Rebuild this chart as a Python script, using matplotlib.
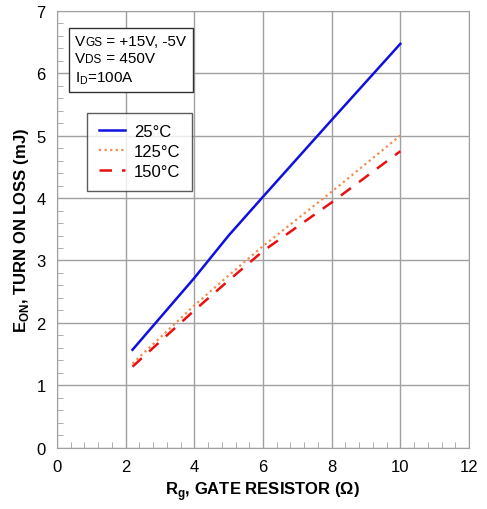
import numpy as np
import matplotlib.pyplot as plt
from matplotlib.ticker import MultipleLocator
from matplotlib.offsetbox import TextArea, HPacker, VPacker, AnchoredOffsetbox

plt.rcParams['font.family'] = ['Liberation Sans', 'DejaVu Sans']

# turn-on loss vs gate resistor
rg = [2.2, 4, 5, 6, 8, 10]
eon_25 = [1.57, 2.72, 3.40, 4.02, 5.25, 6.47]
eon_125 = [1.35, 2.28, 2.76, 3.23, 4.10, 5.00]
eon_150 = [1.30, 2.20, 2.68, 3.15, 3.93, 4.75]
labels = ['25°C', '125°C', '150°C']

fig = plt.figure(figsize=(4.87, 5.1), dpi=100)
ax = fig.add_axes([0.117, 0.12, 0.846, 0.857])

ax.plot(rg, eon_25, color='#1010e0', lw=1.8, label=labels[0])
ax.plot(rg, eon_125, color='#f08c50', lw=1.6, ls=(0, (1, 1.5)), label=labels[1])
ax.plot(rg, eon_150, color='#e81010', lw=1.8, ls=(0, (5, 4)), label=labels[2])

ax.set_xlim(0, 12)
ax.set_ylim(0, 7)
ax.xaxis.set_major_locator(MultipleLocator(2))
ax.xaxis.set_minor_locator(MultipleLocator(0.4))
ax.yaxis.set_major_locator(MultipleLocator(1))
ax.yaxis.set_minor_locator(MultipleLocator(0.2))
ax.grid(True, which='major', color='#a0a0a0', lw=1.0)
ax.tick_params(which='both', direction='in', colors='#a0a0a0', labelcolor='black',
               labelsize=12)
ax.tick_params(which='major', length=0, pad=8)
ax.tick_params(which='minor', length=4)
for s in ax.spines.values():
    s.set_color('#a0a0a0')

ax.set_xlabel(r'R$_\mathregular{g}$, GATE RESISTOR (Ω)', fontsize=12, fontweight='bold')
ax.set_ylabel(r'E$_\mathregular{ON}$, TURN ON LOSS (mJ)', fontsize=12, fontweight='bold')

# conditions box
small = dict(size=8.5)
big = dict(size=11)
line1 = HPacker(children=[TextArea('V', textprops=big), TextArea('GS', textprops=small),
                          TextArea(' = +15V, -5V', textprops=big)], align='baseline', pad=0, sep=0)
line2 = HPacker(children=[TextArea('V', textprops=big), TextArea('DS', textprops=small),
                          TextArea(' = 450V', textprops=big)], align='baseline', pad=0, sep=0)
line3 = TextArea(r'I$_\mathregular{D}$=100A', textprops=big)
box = VPacker(children=[line1, line2, line3], align='left', pad=0, sep=2.5)
anch = AnchoredOffsetbox(loc='upper left', child=box, pad=0.45, borderpad=0,
                         frameon=True, bbox_to_anchor=(0.029, 0.961),
                         bbox_transform=ax.transAxes)
anch.patch.set_edgecolor('#333333')
anch.patch.set_linewidth(1.0)
ax.add_artist(anch)

leg = ax.legend(loc='upper left', bbox_to_anchor=(0.073, 0.767), fontsize=12,
                frameon=True, fancybox=False, handlelength=1.6, handletextpad=0.5,
                borderpad=0.7, labelspacing=0.3, borderaxespad=0)
leg.get_frame().set_edgecolor('#333333')
leg.get_frame().set_linewidth(1.0)

fig.savefig('out.png', dpi=100)
